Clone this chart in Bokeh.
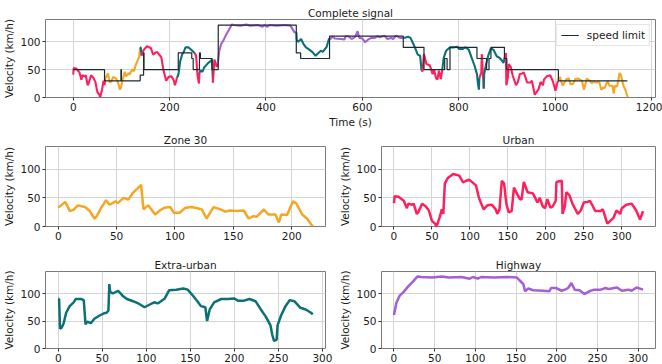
import numpy as np
from bokeh.plotting import figure
from bokeh.layouts import column, row
from bokeh.models import Range1d, Legend, LegendItem
from bokeh.embed import file_html
from bokeh.resources import INLINE

# ---------------- data ----------------
zone30_t = [0, 6, 10, 13, 17, 23, 27, 31, 33, 36, 41, 44, 49, 51, 56, 60, 64, 71, 73, 77,
            83, 87, 91, 96, 99, 104, 109, 114, 119, 123, 127, 130, 133, 139, 143, 147, 153, 159, 163, 167,
            170, 176, 180, 186, 189, 191, 196, 201, 204, 209, 213, 218]
zone30_v = [33, 43, 27, 29, 37, 34, 27, 14, 18, 30, 46, 38, 44, 41, 50, 47, 59, 73, 30, 37,
            21, 28, 33, 34, 24, 24, 33, 34, 32, 30, 14, 24, 34, 30, 26, 28, 27, 28, 14, 18,
            17, 30, 21, 21, 7, 21, 20, 44, 40, 21, 14, 0]

urban_t = [0, 1, 6, 13, 17, 19, 24, 26, 30, 32, 37, 42, 46, 50, 54, 56, 60, 63, 65, 67,
           71, 78, 86, 91, 95, 99, 108, 112, 118, 123, 129, 134, 136, 139, 142, 145, 148, 151, 155, 158,
           163, 166, 168, 171, 176, 183, 189, 192, 196, 199, 202, 206, 209, 213, 214, 221, 222, 225, 227, 231,
           235, 242, 246, 250, 255, 258, 261, 265, 272, 275, 281, 289, 293, 298, 300, 306, 313, 319, 324, 328]
urban_v = [41, 53, 52, 45, 32, 40, 38, 40, 22, 25, 40, 35, 28, 10, 5, 0, 15, 30, 22, 75,
           85, 92, 89, 77, 80, 82, 72, 50, 30, 37, 38, 30, 22, 30, 80, 75, 40, 25, 27, 68,
           55, 48, 47, 78, 60, 58, 42, 50, 35, 32, 48, 33, 35, 45, 78, 80, 22, 35, 60, 55,
           40, 22, 28, 42, 43, 45, 38, 27, 27, 30, 5, 15, 28, 22, 32, 38, 40, 28, 12, 27]

extra_t = [0, 1, 2, 4, 6, 9, 13, 17, 20, 23, 26, 29, 31, 33, 37, 41, 47, 52, 55, 57,
           58, 59, 62, 68, 73, 78, 85, 92, 98, 104, 109, 113, 121, 126, 134, 142, 147, 153, 158, 162,
           167, 169, 172, 177, 185, 192, 200, 204, 211, 217, 224, 230, 236, 241, 243, 245, 248, 249, 253, 258,
           263, 268, 275, 281, 287, 289]
extra_v = [90, 90, 36, 38, 45, 65, 77, 83, 90, 90, 90, 88, 44, 49, 46, 54, 60, 64, 65, 69,
           117, 103, 100, 105, 96, 90, 86, 81, 75, 80, 84, 82, 91, 106, 107, 109, 107, 96, 86, 77,
           75, 50, 71, 84, 90, 90, 91, 87, 87, 90, 86, 71, 57, 42, 25, 14, 16, 42, 60, 77,
           88, 86, 74, 71, 65, 62]

highway_t = [0, 3, 7, 12, 17, 23, 29, 33, 47, 59, 67, 83, 93, 97, 103, 107, 123, 139, 151, 157,
             159, 161, 165, 171, 183, 191, 193, 199, 206, 210, 214, 218, 222, 228, 234, 240, 246, 254, 260, 264,
             274, 280, 288, 292, 298, 306]
highway_v = [61, 83, 96, 103, 112, 121, 131, 130, 129, 131, 129, 130, 127, 130, 127, 130, 129, 130, 129, 120,
             117, 104, 109, 106, 105, 104, 110, 110, 105, 107, 110, 119, 107, 106, 99, 104, 107, 107, 110, 108,
             111, 105, 107, 105, 111, 107]

# order of the pieces in the complete drive
seg_cat = ["urban", "zone30", "extra", "urban", "extra", "urban", "extra", "urban", "highway",
           "extra", "highway", "extra", "urban", "extra", "urban", "extra", "urban", "zone30"]
seg_from = [0, 0, 0, 66, 2, 140, 31, 153, 0, 58, 160, 127, 165, 168, 207, 246, 216, 73]
seg_to = [66, 73, 2, 140, 31, 153, 58, 165, 160, 127, 307, 168, 207, 246, 216, 290, 329, 219]
seg_start = [0, 66, 139, 141, 215, 250, 262, 288, 300, 463, 532, 680, 722, 765, 841, 850, 893, 1006]

limit_t = [0, 65, 99, 100, 139, 146, 147, 218, 246, 249, 262, 264, 288, 301, 463, 472, 532, 685,
           728, 771, 776, 782, 838, 858, 863, 867, 895, 900, 1007, 1150]
limit_v = [50, 30, 50, 30, 40, 80, 50, 80, 70, 50, 80, 70, 50, 130, 80, 70, 110, 90,
           50, 70, 50, 90, 70, 50, 70, 90, 70, 50, 30, 30]

y_ticks = [0, 50, 100]
top_ticks = [0, 200, 400, 600, 800, 1000, 1200]
sub_ticks = [0, 50, 100, 150, 200, 250, 300]

series = {"urban": (urban_t, urban_v), "zone30": (zone30_t, zone30_v),
          "extra": (extra_t, extra_v), "highway": (highway_t, highway_v)}
colors = {"urban": "#ff1f5b", "zone30": "#f5a623", "extra": "#0b7177", "highway": "#a45fd6"}

FONT = "DejaVu Sans"
TXT = "#1a1a1a"


def padded(vals):
    lo, hi = min(vals), max(vals)
    d = 0.05 * (hi - lo)
    return (lo - d, hi + d)


def make_fig(w, h, xr, xticks, title, mbl, mbr, mbt, mbb, xlabel=None):
    p = figure(width=w, height=h, x_range=Range1d(*xr), y_range=Range1d(0, 140),
               output_backend="svg", toolbar_location=None,
               min_border_left=mbl, min_border_right=mbr,
               min_border_top=mbt, min_border_bottom=mbb)
    p.title.text = title
    p.title.align = "center"
    p.title.text_font = FONT
    p.title.text_font_size = "10.5px"
    p.title.text_font_style = "normal"
    p.title.text_color = TXT
    p.title.standoff = 2
    p.xaxis.ticker = xticks
    p.yaxis.ticker = y_ticks
    p.yaxis.axis_label = "Velocity (km/h)"
    if xlabel:
        p.xaxis.axis_label = xlabel
    for ax in (p.xaxis, p.yaxis):
        ax.axis_label_text_font = FONT
        ax.axis_label_text_font_size = "10.5px"
        ax.axis_label_text_font_style = "normal"
        ax.axis_label_text_color = TXT
        ax.axis_label_standoff = 2
        ax.major_label_text_font = FONT
        ax.major_label_text_font_size = "10.5px"
        ax.major_label_text_color = TXT
        ax.major_label_standoff = 2
        ax.axis_line_color = None
        ax.major_tick_out = 3
        ax.major_tick_in = 0
        ax.major_tick_line_color = "#333333"
        ax.minor_tick_line_color = None
    p.grid.grid_line_color = "#d4d4d4"
    p.grid.grid_line_width = 1
    p.outline_line_color = "#7a7a7a"
    p.outline_line_width = 1
    p.background_fill_color = "white"
    p.border_fill_color = "white"
    return p


# ---------------- complete signal ----------------
pieces = []
for cat, a, b, s in zip(seg_cat, seg_from, seg_to, seg_start):
    t = np.asarray(series[cat][0], dtype=float)
    v = np.asarray(series[cat][1], dtype=float)
    m = (t >= a) & (t < b)
    pieces.append([cat, list(t[m] - a + s), list(v[m])])
for i in range(len(pieces) - 1):
    pieces[i][1].append(pieces[i + 1][1][0])
    pieces[i][2].append(pieces[i + 1][2][0])

all_t = [x for pc in pieces for x in pc[1]]
p_top = make_fig(662, 130, padded(all_t), top_ticks, "Complete signal", 45, 7, 19, 30, xlabel="Time (s)")
for cat, ct, cv in pieces:
    p_top.line(ct, cv, line_color=colors[cat], line_width=2.1)
r_lim = p_top.step(limit_t, limit_v, mode="after", line_color="#1c2a35", line_width=1.2)
leg = Legend(items=[LegendItem(label="speed limit", renderers=[r_lim])], location="top_right")
leg.label_text_font = FONT
leg.label_text_font_size = "10.5px"
leg.label_text_color = TXT
leg.glyph_width = 18
leg.glyph_height = 10
leg.label_standoff = 8
leg.padding = 4
leg.margin = 5
leg.spacing = 0
leg.border_line_color = "#cccccc"
leg.border_line_width = 1
leg.background_fill_alpha = 0.85
p_top.add_layout(leg)

# ---------------- sub plots ----------------
def sub(cat, title, w, mbl, mbr, mbt, mbb, h):
    t, v = series[cat]
    p = make_fig(w, h, padded(t), sub_ticks, title, mbl, mbr, mbt, mbb)
    p.line(t, v, line_color=colors[cat], line_width=2.5)
    return p


p_z = sub("zone30", "Zone 30", 336, 45, 11, 14, 20, 116)
p_u = sub("urban", "Urban", 326, 39, 7, 14, 20, 116)
p_e = sub("extra", "Extra-urban", 336, 45, 11, 25, 16, 118)
p_h = sub("highway", "Highway", 326, 39, 7, 25, 16, 118)

layout = column(p_top, row(p_z, p_u), row(p_e, p_h))
open("out.html", "w").write(file_html(layout, INLINE))
